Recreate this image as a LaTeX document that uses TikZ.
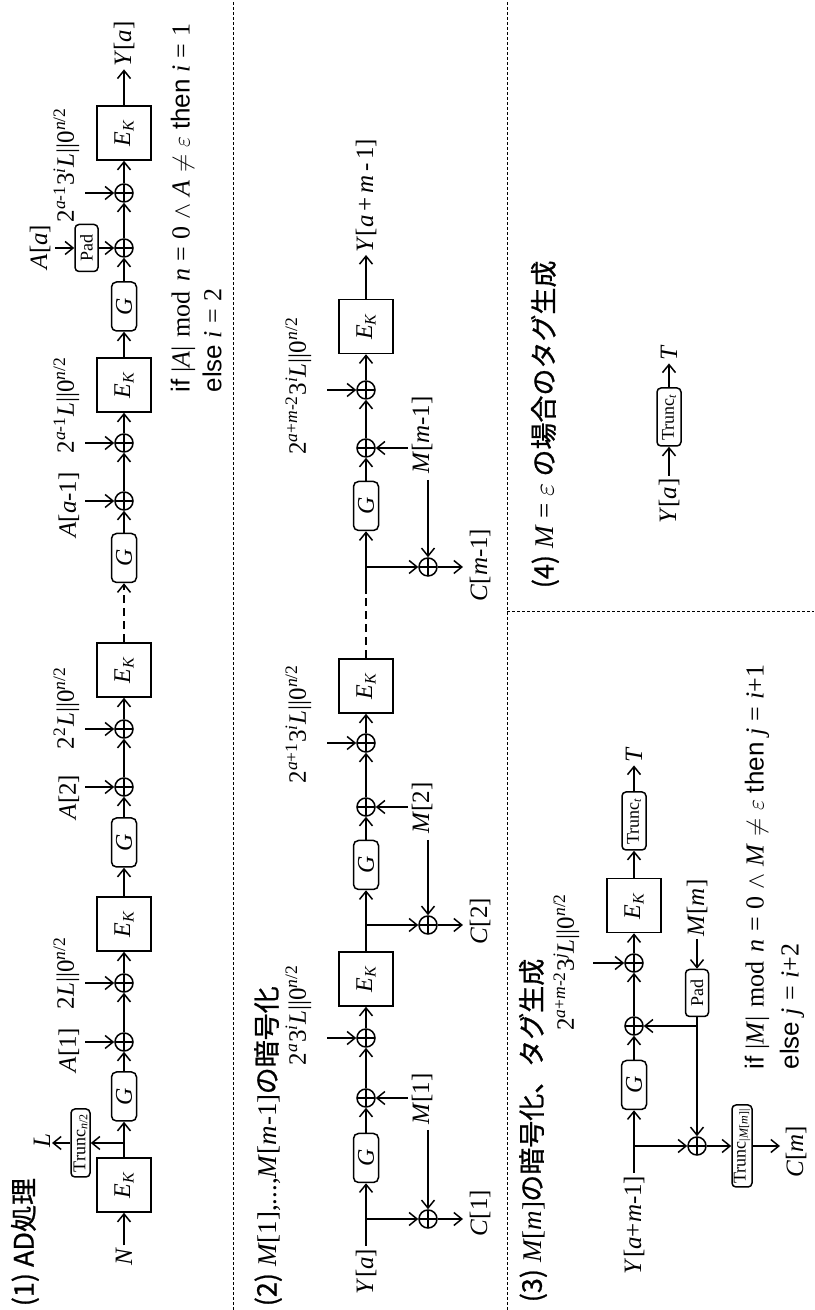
\documentclass[tikz,border=0pt]{standalone}
\usepackage{fontspec}
\setmainfont{Liberation Serif}
\setsansfont{Liberation Sans}
\newfontfamily\cjk{Noto Sans CJK JP}[FakeBold=0.8]
\usetikzlibrary{arrows.meta,calc}
\newcommand\iv[1]{\textit{#1}}
\newcommand\sups[1]{\textsuperscript{#1}}
\newcommand\Ek{\iv{E}\textsubscript{\iv{K}}}
\newcommand\gp{\hspace{0.28em}}
\newcommand\gq{\hspace{0.35em}}
\begin{document}
\begin{tikzpicture}[x=0.5pt,y=0.5pt,rotate=90,transform shape,line width=0.75pt,
  arr/.style={-{Straight Barb[length=4pt,width=6.5pt]}},
  ekbox/.style={draw,minimum width=27pt,minimum height=27pt,inner sep=0pt,font=\fontsize{12}{14}\selectfont},
  gbox/.style={draw,rounded corners=2.5pt,minimum width=24.5pt,minimum height=12.5pt,inner sep=0pt,font=\fontsize{12}{14}\selectfont},
  smallbox/.style={draw,rounded corners=2pt,inner sep=0pt,font=\fontsize{9}{10}\selectfont},
  xor/.style={circle,draw,minimum size=9pt,inner sep=0pt,path picture={\draw (path picture bounding box.north) -- (path picture bounding box.south) (path picture bounding box.west) -- (path picture bounding box.east);}},
  lbl/.style={inner sep=1pt,font=\fontsize{12.5}{14}\selectfont},
  cond/.style={anchor=west,inner sep=0pt,font=\fontsize{13}{15}\selectfont},
  ttl/.style={anchor=west,inner sep=0pt,font=\cjk\fontsize{13.5}{16}\selectfont},
  sepline/.style={line width=0.5pt,dash pattern=on 1.5pt off 1pt},
  dsh/.style={dash pattern=on 4pt off 2.5pt}]
\useasboundingbox (0,0) rectangle (1310,-814);
% separators
\draw[sepline] (0,-233) -- (1310,-233);
\draw[sepline] (0,-507) -- (1310,-507);
\draw[sepline] (698,-507) -- (698,-814);
% titles
\node[ttl] (t1) at (3,-25) {(1) AD処理};
\node[ttl] (t2) at (3,-268) {(2) {\rmfamily\iv{M}[1],...,\iv{M}[\iv{m}-1]}の暗号化};
\node[ttl] (t3) at (7,-533) {(3) {\rmfamily\iv{M}[\iv{m}]}の暗号化、タグ生成};
\node[ttl] (t4) at (721,-545) {(4) {\rmfamily\iv{M} = $\varepsilon$ }の場合のタグ生成};
% ---------------- row 1
\node[lbl] (N) at (53,-124) {\iv{N}};
\node[ekbox] (ek1) at (125,-124) {\Ek};
\coordinate (b1) at (167,-124);
\node[smallbox,minimum width=34pt,minimum height=9.5pt] (tr1) at (167,-80.5) {Trunc\textsubscript{\iv{n}/2}};
\node[lbl] (L) at (169,-42) {\iv{L}};
\coordinate (tL) at (167,-52);
\node[gbox] (g1) at (213.5,-124) {\iv{G}};
\node[xor] (x1) at (268,-124) {};
\node[lbl,anchor=south] (la1) at (260,-82) {\iv{A}[1]};
\coordinate (ta1) at (268,-85);
\node[xor] (x2) at (327,-124) {};
\node[lbl,anchor=south] (lb1) at (337,-82) {2\iv{L}||0\sups{\iv{n}/2}};
\coordinate (tb1) at (327,-85);
\node[ekbox] (ek2) at (386,-124) {\Ek};
\node[gbox] (g2) at (467.5,-124) {\iv{G}};
\node[xor] (x3) at (523,-124) {};
\node[lbl,anchor=south] (la2) at (513,-82) {\iv{A}[2]};
\coordinate (ta2) at (523,-85);
\node[xor] (x4) at (581,-124) {};
\node[lbl,anchor=south] (lb2) at (602,-82) {2\sups{2}\iv{L}||0\sups{\iv{n}/2}};
\coordinate (tb2) at (581,-85);
\node[ekbox] (ek3) at (640,-124) {\Ek};
\node[gbox] (g3) at (752,-124) {\iv{G}};
\node[xor] (x5) at (809,-124) {};
\node[lbl,anchor=south] (la3) at (805,-82) {\iv{A}[\iv{a}-1]};
\coordinate (ta3) at (809,-85);
\node[xor] (x6) at (867,-124) {};
\node[lbl,anchor=south] (lb3) at (905,-82) {2\sups{\iv{a}-1}\iv{L}||0\sups{\iv{n}/2}};
\coordinate (tb3) at (867,-85);
\node[ekbox] (ek4) at (925,-124) {\Ek};
\node[gbox] (g4) at (1003.5,-124) {\iv{G}};
\node[xor] (xp) at (1062,-124) {};
\node[smallbox,minimum width=23.5pt,minimum height=11.5pt] (pad1) at (1062,-86.5) {Pad};
\node[lbl] (Aa) at (1063,-40) {\iv{A}[\iv{a}]};
\coordinate (tAa) at (1062,-55);
\node[xor] (x7) at (1117,-124) {};
\node[lbl,anchor=south] (lc1) at (1145,-82) {2\sups{\iv{a}-1}3\sups{\iv{i}}\iv{L}||0\sups{\iv{n}/2}};
\coordinate (tc1) at (1117,-85);
\node[ekbox] (ek5) at (1177,-124) {\Ek};
\node[lbl] (Ya1) at (1266,-124) {\iv{Y}[\iv{a}]};
\draw[arr] (N) -- (ek1);
\draw[arr] (ek1) -- (g1);
\draw[arr] (b1) -- (tr1);
\draw[arr] (tr1) -- (tL);
\draw[arr] (g1) -- (x1);
\draw[arr] (x1) -- (x2);
\draw[arr] (x2) -- (ek2);
\draw[arr] (ek2) -- (g2);
\draw[arr] (g2) -- (x3);
\draw[arr] (x3) -- (x4);
\draw[arr] (x4) -- (ek3);
\draw[arr,dsh] (ek3) -- (g3);
\draw[arr] (g3) -- (x5);
\draw[arr] (x5) -- (x6);
\draw[arr] (x6) -- (ek4);
\draw[arr] (ek4) -- (g4);
\draw[arr] (g4) -- (xp);
\draw[arr] (xp) -- (x7);
\draw[arr] (x7) -- (ek5);
\draw[arr] (ek5) -- (Ya1);
\draw[arr] (ta1) -- (x1);
\draw[arr] (tb1) -- (x2);
\draw[arr] (ta2) -- (x3);
\draw[arr] (tb2) -- (x4);
\draw[arr] (ta3) -- (x5);
\draw[arr] (tb3) -- (x6);
\draw[arr] (tAa) -- (pad1);
\draw[arr] (pad1) -- (xp);
\draw[arr] (tc1) -- (x7);
\node[cond] (cd1) at (917,-183) {{\sffamily if} |\iv{A}|\gq mod\gq\iv{n}\gp=\gp0\gp$\wedge$\gp\iv{A}\gp$\neq$\gp$\varepsilon$ {\sffamily then} \iv{i}\gp=\gp1};
\node[cond] (cd2) at (917,-212) {{\sffamily else} \iv{i}\gp=\gp2};
% ---------------- row 2
\node[lbl,anchor=east] (ya) at (64,-366) {\iv{Y}[\iv{a}]};
\coordinate (b21) at (91,-366);
\node[xor] (xc1) at (91,-428) {};
\node[lbl,anchor=north] (c1) at (97,-467) {\iv{C}[1]};
\coordinate (tc1o) at (91,-463);
\node[gbox] (g21) at (152,-366) {\iv{G}};
\node[xor] (xm1) at (212,-366) {};
\node[lbl,anchor=north] (m1) at (211,-409) {\iv{M}[1]};
\coordinate (tm1) at (212,-408);
\coordinate (lm1) at (180,-428);
\node[xor] (xa1) at (272,-366) {};
\node[lbl,anchor=south] (la21) at (295,-314) {2\sups{\iv{a}}3\sups{\iv{i}}\iv{L}||0\sups{\iv{n}/2}};
\coordinate (ta21) at (272,-327);
\node[ekbox] (ek21) at (331,-366) {\Ek};
\coordinate (b22) at (385,-366);
\node[xor] (xc2) at (385,-428) {};
\node[lbl,anchor=north] (c2) at (389,-467) {\iv{C}[2]};
\coordinate (tc2o) at (385,-463);
\node[gbox] (g22) at (445,-366) {\iv{G}};
\node[xor] (xm2) at (503,-366) {};
\node[lbl,anchor=north] (m2) at (502,-409) {\iv{M}[2]};
\coordinate (tm2) at (503,-408);
\coordinate (lm2) at (470,-428);
\node[xor] (xa2) at (567,-366) {};
\node[lbl,anchor=south] (la22) at (586,-314) {2\sups{\iv{a}+1}3\sups{\iv{i}}\iv{L}||0\sups{\iv{n}/2}};
\coordinate (ta22) at (567,-327);
\node[ekbox] (ek22) at (624,-366) {\Ek};
\coordinate (d2) at (717,-366);
\coordinate (b23) at (743,-366);
\node[xor] (xc3) at (743,-428) {};
\node[lbl,anchor=north] (c3) at (745,-467) {\iv{C}[\iv{m}-1]};
\coordinate (tc3o) at (743,-463);
\node[gbox] (g23) at (804,-366) {\iv{G}};
\node[xor] (xm3) at (862,-366) {};
\node[lbl,anchor=north] (m3) at (875,-409) {\iv{M}[\iv{m}-1]};
\coordinate (tm3) at (862,-408);
\coordinate (lm3) at (830,-428);
\node[xor] (xa3) at (920,-366) {};
\node[lbl,anchor=south] (la23) at (924,-314) {2\sups{\iv{a}+\iv{m}-2}3\sups{\iv{i}}\iv{L}||0\sups{\iv{n}/2}};
\coordinate (ta23) at (920,-327);
\node[ekbox] (ek23) at (983.5,-366) {\Ek};
\node[lbl,anchor=west] (yam) at (1055,-366) {\iv{Y}[\iv{a}\hspace{0.15em}+\hspace{0.15em}\iv{m}\hspace{0.15em}-\hspace{0.15em}1]};
\draw[arr] (ya) -- (g21);
\draw[arr] (b21) -- (xc1);
\draw[arr] (xc1) -- (tc1o);
\draw[arr] (g21) -- (xm1);
\draw[arr] (tm1) -- (xm1);
\draw[arr] (lm1) -- (xc1);
\draw[arr] (xm1) -- (xa1);
\draw[arr] (ta21) -- (xa1);
\draw[arr] (xa1) -- (ek21);
\draw[arr] (ek21) -- (g22);
\draw[arr] (b22) -- (xc2);
\draw[arr] (xc2) -- (tc2o);
\draw[arr] (g22) -- (xm2);
\draw[arr] (tm2) -- (xm2);
\draw[arr] (lm2) -- (xc2);
\draw[arr] (xm2) -- (xa2);
\draw[arr] (ta22) -- (xa2);
\draw[arr] (xa2) -- (ek22);
\draw[dsh] (ek22) -- (d2);
\draw[arr] (d2) -- (g23);
\draw[arr] (b23) -- (xc3);
\draw[arr] (xc3) -- (tc3o);
\draw[arr] (g23) -- (xm3);
\draw[arr] (tm3) -- (xm3);
\draw[arr] (lm3) -- (xc3);
\draw[arr] (xm3) -- (xa3);
\draw[arr] (ta23) -- (xa3);
\draw[arr] (xa3) -- (ek23);
\draw[arr] (ek23) -- (yam);
% ---------------- row 3
\node[lbl,anchor=east] (ya3) at (137,-634) {\iv{Y}[\iv{a}+\iv{m}-1]};
\coordinate (b31) at (164,-634);
\node[xor] (xlo) at (164,-697) {};
\node[gbox] (g31) at (225,-634) {\iv{G}};
\node[xor] (x31) at (284,-634) {};
\coordinate (b32) at (284,-697);
\node[smallbox,minimum width=23.5pt,minimum height=11.5pt] (pad3) at (317,-697) {Pad};
\node[lbl] (mm) at (402,-697) {\iv{M}[\iv{m}]};
\node[xor] (x32) at (347,-634) {};
\node[lbl,anchor=south] (la31) at (348,-582) {2\sups{\iv{a}+\iv{m}-2}3\sups{\iv{j}}\iv{L}||0\sups{\iv{n}/2}};
\coordinate (ta31) at (347,-593);
\node[ekbox] (ek31) at (404.5,-634) {\Ek};
\node[smallbox,minimum width=29pt,minimum height=12pt] (tr3) at (489,-634) {Trunc\textsubscript{\iv{t}}};
\node[lbl] (T3) at (555,-634) {\iv{T}};
\node[smallbox,minimum width=41pt,minimum height=10pt] (trm) at (164,-742) {Trunc\textsubscript{|\iv{M}[\iv{m}]|}};
\node[lbl,anchor=north] (cm) at (158,-783) {\iv{C}[\iv{m}]};
\coordinate (tcm) at (164,-780);
\draw[arr] (ya3) -- (g31);
\draw[arr] (b31) -- (xlo);
\draw[arr] (g31) -- (x31);
\draw[arr] (x31) -- (x32);
\draw[arr] (ta31) -- (x32);
\draw[arr] (x32) -- (ek31);
\draw[arr] (ek31) -- (tr3);
\draw[arr] (tr3) -- (T3);
\draw[arr] (mm) -- (pad3);
\draw[arr] (pad3) -- (xlo);
\draw[arr] (b32) -- (x31);
\draw[arr] (xlo) -- (trm);
\draw[arr] (trm) -- (tcm);
\node[cond] (cd3) at (240,-757) {{\sffamily if} |\iv{M}|\gq mod\gq\iv{n}\gp=\gp0\gp$\wedge$\gp\iv{M}\gp$\neq$\gp$\varepsilon$ {\sffamily then} \iv{j}\gp=\gp\iv{i}+1};
\node[cond] (cd4) at (240,-792) {{\sffamily else} \iv{j}\gp=\gp\iv{i}+2};
% ---------------- row 4
\node[lbl] (ya4) at (809,-669) {\iv{Y}[\iv{a}]};
\node[smallbox,minimum width=29pt,minimum height=12pt] (tr4) at (893,-669) {Trunc\textsubscript{\iv{t}}};
\node[lbl] (T4) at (957,-669) {\iv{T}};
\draw[arr] (ya4) -- (tr4);
\draw[arr] (tr4) -- (T4);
\end{tikzpicture}
\end{document}
